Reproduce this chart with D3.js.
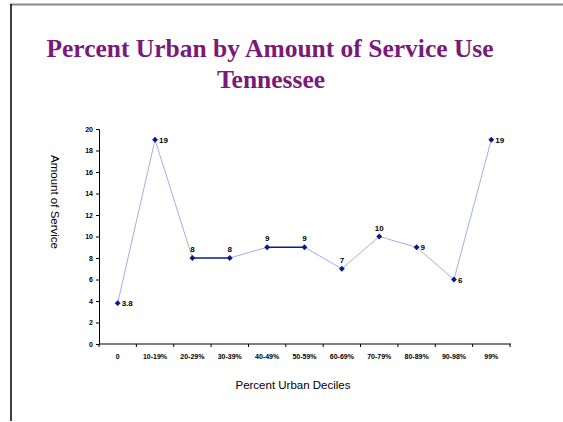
<!DOCTYPE html>
<html>
<head>
<meta charset="utf-8">
<script src="https://cdn.jsdelivr.net/npm/d3@7"></script>
<style>
	body { margin: 0; background: #fff; }
	svg { display: block; }
</style>
</head>
<body>
<svg width="563" height="422"></svg>
<script>
const categories = ['0', '10-19%', '20-29%', '30-39%', '40-49%', '50-59%', '60-69%', '70-79%', '80-89%', '90-98%', '99%']
const values = [3.8, 19, 8, 8, 9, 9, 7, 10, 9, 6, 19]
const labelSide = ['right', 'right', 'top', 'top', 'top', 'top', 'top', 'top', 'right', 'right', 'right']
const yTicks = [0, 2, 4, 6, 8, 10, 12, 14, 16, 18, 20]

const svg = d3.select('svg')
const margin = { left: 99, right: 53, top: 129, bottom: 78 }
const width = 563, height = 422

// frame lines of the slide
svg.append('line').attr('x1', 10).attr('x2', width).attr('y1', 4.5).attr('y2', 4.5)
	.attr('stroke', '#888').attr('stroke-width', 2)
svg.append('line').attr('x1', 11).attr('x2', 11).attr('y1', 4).attr('y2', height - 1)
	.attr('stroke', '#000').attr('stroke-width', 1.5)

// title
const title = svg.append('text')
	.attr('text-anchor', 'middle')
	.attr('fill', '#7a1a78')
	.style('font-family', '"Liberation Serif", "Times New Roman", serif')
	.style('font-weight', 'bold')
	.style('font-size', '25.5px')
title.append('tspan').attr('x', 270).attr('y', 57).text('Percent Urban by Amount of Service Use')
title.append('tspan').attr('x', 271).attr('y', 88).text('Tennessee')

const x = d3.scaleBand().domain(categories).range([margin.left, width - margin.right])
const y = d3.scaleLinear().domain([0, 20]).range([height - margin.bottom, margin.top])
const cx = d => x(d) + x.bandwidth() / 2

// y axis
const yAxis = svg.append('g')
	.attr('transform', `translate(${margin.left},0)`)
	.call(d3.axisLeft(y).tickValues(yTicks).tickSize(3).tickPadding(3))
yAxis.select('.domain').attr('stroke', '#000')
yAxis.selectAll('text').style('font-family', 'Arial, "Liberation Sans", sans-serif')
	.style('font-size', '7px').style('font-weight', 'bold').attr('fill', '#000')

// x axis (ticks between categories)
const xAxisG = svg.append('g').attr('transform', `translate(0,${y(0)})`)
xAxisG.append('line').attr('x1', margin.left).attr('x2', width - margin.right + 1)
	.attr('stroke', '#000').attr('stroke-width', 1.2)
xAxisG.selectAll('.tk').data(categories.concat(['end'])).enter().append('line')
	.attr('x1', (d, i) => margin.left + i * x.step())
	.attr('x2', (d, i) => margin.left + i * x.step())
	.attr('y1', 0).attr('y2', 3).attr('stroke', '#000')
xAxisG.selectAll('.lbl').data(categories).enter().append('text')
	.attr('x', d => cx(d)).attr('y', 15)
	.attr('text-anchor', 'middle')
	.style('font-family', 'Arial, "Liberation Sans", sans-serif')
	.style('font-size', '7px').style('font-weight', 'bold')
	.text(d => d)

// axis titles
svg.append('text')
	.attr('transform', `translate(51,202) rotate(90)`)
	.attr('text-anchor', 'middle')
	.style('font-family', 'Arial, "Liberation Sans", sans-serif')
	.style('font-size', '11.5px')
	.text('Amount of Service')
svg.append('text')
	.attr('x', 293).attr('y', 389)
	.attr('text-anchor', 'middle')
	.style('font-family', 'Arial, "Liberation Sans", sans-serif')
	.style('font-size', '11.5px')
	.text('Percent Urban Deciles')

const pts = categories.map((c, i) => ({ c, v: values[i], side: labelSide[i] }))

// line segments; flat ones render heavier
const segs = d3.pairs(pts)
svg.append('g').selectAll('line').data(segs).enter().append('line')
	.attr('x1', d => cx(d[0].c)).attr('y1', d => y(d[0].v))
	.attr('x2', d => cx(d[1].c)).attr('y2', d => y(d[1].v))
	.attr('stroke', d => d[0].v === d[1].v ? '#0a1a8c' : '#a4aee6')
	.attr('stroke-width', d => d[0].v === d[1].v ? 1.5 : 1)

// diamond markers
svg.append('g').selectAll('path').data(pts).enter().append('path')
	.attr('d', d3.symbol(d3.symbolDiamond2, 22))
	.attr('transform', d => `translate(${cx(d.c)},${y(d.v)})`)
	.attr('fill', '#0a1a8c')

// data labels
svg.append('g').selectAll('text').data(pts).enter().append('text')
	.attr('x', d => d.side === 'right' ? cx(d.c) + 4 : cx(d.c))
	.attr('y', d => d.side === 'right' ? y(d.v) + 3 : y(d.v) - 6)
	.attr('text-anchor', d => d.side === 'right' ? 'start' : 'middle')
	.style('font-family', 'Arial, "Liberation Sans", sans-serif')
	.style('font-size', '8px').style('font-weight', 'bold')
	.attr('fill', '#000')
	.text(d => d.v)
</script>
</body>
</html>
